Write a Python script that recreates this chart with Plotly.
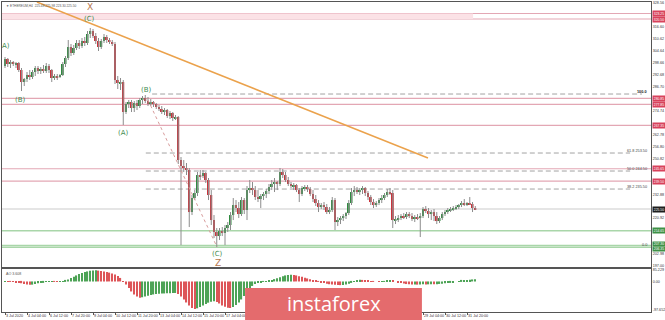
import plotly.graph_objects as go

# ---------------- data (ETHEREUM, H4) ----------------
bar_open = [
    297, 300.5, 298, 299, 298, 298.5, 295, 289, 290.5, 292.5,
    291.5, 294, 296, 294.5, 295.5, 294.5, 297, 295, 291, 292,
    291.5, 292.5, 298, 301, 306.5, 303.5, 306, 308.5, 307, 309.5,
    308.5, 313, 314.5, 312, 309.5, 306.5, 309.5, 311.5, 310, 309,
    308, 290, 288.5, 289, 274, 278, 279, 276, 278.5, 277,
    280, 281, 279.5, 278, 279, 278, 276.5, 275.5, 274, 275,
    272, 273.5, 271, 271.5, 250, 247, 246, 245, 224, 231,
    233.5, 242.5, 242, 243.5, 240, 232.5, 220, 214, 212, 214.5,
    213.5, 216, 217.5, 222.5, 227.5, 226, 223, 230, 225, 235,
    236, 235, 231.5, 230.5, 232, 233, 234.5, 236.5, 238, 239,
    238, 244, 242.5, 240, 238, 237, 237.5, 235, 233, 236,
    236.5, 235.5, 233, 230.5, 228.5, 226.5, 227.5, 226.5, 224, 225,
    230, 219, 220, 221, 222, 223.5, 228.5, 234, 235, 234,
    235, 236, 233.5, 231.5, 229, 227.5, 228.5, 230, 231, 232.5,
    234, 233.5, 220, 220.5, 221, 222, 221.5, 223, 222, 220.5,
    221.5, 221, 222, 225.5, 224.5, 223, 224, 222, 219.5, 221,
    223, 224, 225, 225.5, 226, 226.5, 227.5, 228.5, 228, 228.5,
    228, 226]
bar_high = [
    301.5, 301, 300, 299.5, 299, 299, 296, 291, 294, 295,
    295, 297, 297, 296.5, 297.5, 298.5, 298, 295.5, 293, 293,
    293, 299, 302, 310, 308, 307.5, 310, 310, 311, 311.5,
    314.5, 316, 315.5, 313.5, 311, 310.5, 313, 312.5, 311, 310,
    309, 292, 291, 290, 279, 280, 280, 279.5, 280, 281,
    282, 282.5, 281.5, 280.5, 279.5, 278.5, 277.5, 277, 276, 275.5,
    274.5, 274, 272.5, 272, 251.5, 250, 248.5, 246, 232.5, 235,
    244, 245, 245, 244, 241, 235, 222.5, 216, 216, 216.5,
    217.5, 219, 224, 231, 230, 229, 231.5, 231, 237, 240,
    239, 237, 235, 233, 234, 235.5, 238, 240, 241, 239.5,
    246, 245.5, 244, 241.5, 239, 238.5, 238, 236, 237, 237.5,
    237.5, 236.5, 235, 232.5, 230, 228.5, 229, 228, 226.5, 231.5,
    231, 221.5, 222, 223, 224, 230, 236, 237, 236.5, 236,
    237, 236.5, 234.5, 232.5, 230.5, 229.5, 231, 232.5, 233.5, 235.5,
    236, 235, 222, 222.5, 223, 223.5, 224, 224, 223.5, 222.5,
    223, 223.5, 226.5, 227, 226, 225, 225.5, 224, 222, 224,
    225, 226, 226.5, 227, 227.5, 228, 229.5, 230.5, 229, 231.5,
    229, 227]
bar_low = [
    296, 296.5, 296, 297, 296, 294, 284.5, 287, 289, 290,
    290.5, 292, 293, 293, 293.5, 293.5, 293.5, 289, 290, 290,
    291, 292, 296.5, 300, 302, 302.5, 305, 305.5, 306, 307,
    307.5, 311, 311, 308, 304.5, 305.5, 308.5, 308.5, 308, 307,
    288, 285.5, 285, 267.5, 273, 276, 274, 274, 275, 276,
    278, 278.5, 277, 277, 276.5, 275.5, 274.5, 273, 272.5, 271,
    270.5, 269.5, 270, 248, 207.5, 244, 242.5, 216.5, 222.5, 230,
    232, 240, 241, 238.5, 230, 217.5, 211, 206.5, 210, 212,
    207.5, 214, 215, 220, 224, 221, 222, 223, 220, 233.5,
    232.5, 230, 229, 226, 230, 231, 233, 235, 234, 235,
    237, 241, 239, 237, 236, 235, 234, 229, 232, 234.5,
    234, 232, 229, 227, 224, 225.5, 225, 223, 223, 224,
    215, 217, 218, 219.5, 220.5, 222.5, 227.5, 232, 233, 232.5,
    233, 232, 230, 227.5, 226, 226.5, 227.5, 228.5, 230, 231.5,
    232.5, 216, 218, 219, 220, 220.5, 220.5, 221, 219.5, 219,
    220, 211.5, 221, 223.5, 221, 220, 219.5, 218, 218.5, 220,
    222, 223, 224, 224.5, 225, 225.5, 226.5, 227, 227, 227.5,
    224, 225]
bar_close = [
    300.5, 298, 299, 298, 298.5, 295, 289, 290.5, 292.5, 291.5,
    294, 296, 294.5, 295.5, 294.5, 297, 295, 291, 292, 291.5,
    292.5, 298, 301, 306.5, 303.5, 306, 308.5, 307, 309.5, 308.5,
    313, 314.5, 312, 309.5, 306.5, 309.5, 311.5, 310, 309, 308,
    290, 288.5, 289, 274, 278, 279, 276, 278.5, 277, 280,
    281, 279.5, 278, 279, 278, 276.5, 275.5, 274, 275, 272,
    273.5, 271, 271.5, 250, 247, 246, 245, 224, 231, 233.5,
    242.5, 242, 243.5, 240, 232.5, 220, 214, 212, 214.5, 213.5,
    216, 217.5, 222.5, 227.5, 226, 223, 230, 225, 235, 236,
    235, 231.5, 230.5, 232, 233, 234.5, 236.5, 238, 239, 238,
    244, 242.5, 240, 238, 237, 237.5, 235, 233, 236, 236.5,
    235.5, 233, 230.5, 228.5, 226.5, 227.5, 226.5, 224, 225, 230,
    219, 220, 221, 222, 223.5, 228.5, 234, 235, 234, 235,
    236, 233.5, 231.5, 229, 227.5, 228.5, 230, 231, 232.5, 234,
    233.5, 220, 220.5, 221, 222, 221.5, 223, 222, 220.5, 221.5,
    221, 222, 225.5, 224.5, 223, 224, 222, 219.5, 221, 223,
    224, 225, 225.5, 226, 226.5, 227.5, 228.5, 228, 228.5, 228,
    226, 225.5]

# Awesome Oscillator
ao_values = [
    1.5, 0.9, 0.6, -0.9, -1.5, -3.0, -5.4, -7.5, -9.0, -9.9,
    -9.6, -7.8, -5.4, -3.0, -1.5, -0.9, 0.9, 1.5, 1.2, 0.6,
    0.9, 1.5, 3.0, 6.0, 10.5, 14.4, 18.0, 22.5, 25.5, 27.9,
    30.0, 31.8, 33.0, 33.6, 32.4, 30.9, 29.4, 27.9, 26.4, 24.0,
    21.0, 16.5, 10.5, 1.5, -9.0, -19.5, -30.0, -39.0, -45.0, -48.6,
    -47.4, -45.0, -42.6, -40.5, -39.0, -37.8, -36.9, -36.3, -36.0, -35.7,
    -35.4, -34.8, -34.5, -37.5, -45.0, -54.0, -63.0, -72.0, -79.5, -82.5,
    -80.4, -76.5, -72.0, -67.5, -63.6, -60.6, -59.4, -61.5, -66.0, -72.0,
    -75.9, -78.6, -79.5, -76.5, -70.5, -63.0, -54.0, -43.5, -33.0, -22.5,
    -13.5, -7.5, -3.6, -1.8, -0.6, 0.9, 2.4, 4.5, 6.9, 9.6,
    12.6, 15.6, 18.0, 19.5, 20.1, 19.2, 18.0, 15.9, 13.8, 11.4,
    9.0, 6.6, 4.2, 2.1, 0.3, -1.8, -4.2, -6.6, -8.4, -9.3,
    -9.9, -10.8, -11.1, -10.5, -9.0, -6.6, -3.0, 0.9, 3.6, 5.4,
    4.5, 3.6, 2.4, 1.5, 0.6, 0.0, -0.3, 0.3, 0.9, 2.1,
    3.0, 1.8, 0.0, -2.4, -4.5, -6.3, -7.8, -8.7, -9.3, -9.0,
    -9.6, -9.3, -8.7, -9.0, -8.7, -8.4, -8.7, -8.1, -7.5, -6.6,
    -5.7, -4.5, -3.0, -1.5, 0.0, 1.2, 2.4, 3.3, 4.2, 5.1,
    6.0, 6.6]
ao_tick_values = [34.5, 0, -85.5]
ao_tick_labels = ["85.229", "0.00", "-97.652"]

time_tick_index = [0, 8, 16, 24, 32, 40, 48, 56, 64, 72, 80, 88, 96, 104,
                   112, 120, 128, 136, 144, 152, 160, 168]
time_tick_labels = ["3 Jul 2020", "4 Jul 04:00", "6 Jul 12:00", "7 Jul 20:00",
                    "9 Jul 04:00", "10 Jul 12:00", "11 Jul 20:00", "13 Jul 04:00",
                    "14 Jul 12:00", "15 Jul 20:00", "17 Jul 04:00", "18 Jul 12:00",
                    "19 Jul 20:00", "21 Jul 04:00", "22 Jul 12:00", "23 Jul 20:00",
                    "25 Jul 04:00", "26 Jul 12:00", "27 Jul 20:00", "29 Jul 04:00",
                    "30 Jul 12:00", "31 Jul 20:00"]

price_ticks = [197.00, 202.98, 208.96, 214.94, 220.92, 226.90, 232.88, 238.86,
               244.84, 250.82, 256.80, 262.78, 268.76, 274.74, 280.72, 286.70,
               292.68, 298.66, 304.64, 310.62, 316.60, 322.58, 328.56]

resistance_levels = [323.25, 320.5, 280.85, 277.85, 267.35, 245.65, 239.5]
support_levels = [214.65, 207.3, 206.35]
current_price = 225.5
band_levels = [320.5, 323.25]
band_end_bar = 170.2

fib_names = ["0.0", "38.2", "50.0", "61.8", "100.0"]
fib_prices = [206.5, 235.5, 244.5, 253.5, 283.0]
fib_start_bar = [51.2, 51.2, 51.2, 51.2, 53.5]
fib_end_bar = [227.3, 227.3, 227.3, 227.3, 231.6]

trend_x = [11.6, 153.8]
trend_y = [329.0, 251.0]
bc_x = [52.0, 77.1]
bc_y = [280.0, 206.5]

wave_text = ["A)", "(B)", "(C)", "(A)", "(B)", "(C)"]
wave_x = [0.4, 5.8, 30.9, 43.1, 51.6, 77.1]
wave_y = [307.25, 280.25, 320.75, 263.65, 285.0, 203.0]
pattern_text = ["X", "Z"]
pattern_x = [30.9, 77.5]
pattern_y = [326.5, 198.6]

title_text = "\u25bc ETHEREUM,H4  225.48 225.98 223.30 225.50"
ao_title = "AO 3.608"

# watermark extent along the bar axis
watermark_bars = [87.3, 151.6]

# ---------------- figure ----------------
n = len(bar_close)
UP = "#2f8a3f"
DOWN = "#c9343c"
SMALL_FONT = "Liberation Sans"

fig = go.Figure()

# wicks
wx, wy = [], []
for i in range(n):
    wx += [i, i, None]
    wy += [bar_low[i], bar_high[i], None]
fig.add_trace(go.Scatter(x=wx, y=wy, mode="lines", line=dict(color="#8c8c8c", width=1),
                         hoverinfo="skip", xaxis="x", yaxis="y"))

# bodies
for want_up, col in ((True, UP), (False, DOWN)):
    idx = [i for i in range(n) if (bar_close[i] >= bar_open[i]) == want_up]
    fig.add_trace(go.Bar(
        x=idx,
        base=[min(bar_open[i], bar_close[i]) for i in idx],
        y=[max(abs(bar_close[i] - bar_open[i]), 0.45) for i in idx],
        width=0.72, marker=dict(color=col, line=dict(width=0)),
        xaxis="x", yaxis="y", hoverinfo="skip"))

# trend line and B-C line
fig.add_trace(go.Scatter(x=trend_x, y=trend_y, mode="lines",
                         line=dict(color="#eba24c", width=1.5), xaxis="x", yaxis="y"))
fig.add_trace(go.Scatter(x=bc_x, y=bc_y, mode="lines",
                         line=dict(color="#d89c9c", width=1, dash="dot"), xaxis="x", yaxis="y"))

# AO histogram
ao_colors = ["#4da356" if (i > 0 and ao_values[i] > ao_values[i - 1]) else "#dd5558"
             for i in range(n)]
ao_colors[0] = "#4da356"
fig.add_trace(go.Bar(x=list(range(n)), y=ao_values, width=0.45,
                     marker=dict(color=ao_colors, line=dict(width=0)),
                     xaxis="x2", yaxis="y2", hoverinfo="skip"))

shapes = []
# pink band
shapes.append(dict(type="rect", xref="x", yref="y", x0=-2, x1=band_end_bar,
                   y0=band_levels[0], y1=band_levels[1], fillcolor="#fbe2e6",
                   line=dict(width=0), layer="below"))
for lv in resistance_levels:
    shapes.append(dict(type="line", xref="paper", yref="y", x0=0, x1=1, y0=lv, y1=lv,
                       line=dict(color="#e3a7b4", width=1.2), layer="below"))
shapes.append(dict(type="line", xref="paper", yref="y", x0=0, x1=1,
                   y0=current_price, y1=current_price,
                   line=dict(color="#dcdcdc", width=1.5), layer="below"))
for lv in support_levels:
    shapes.append(dict(type="line", xref="paper", yref="y", x0=0, x1=1, y0=lv, y1=lv,
                       line=dict(color="#a9d6a9", width=1.5), layer="below"))
for k in range(1, len(fib_prices)):
    shapes.append(dict(type="line", xref="x", yref="y", x0=fib_start_bar[k], x1=fib_end_bar[k],
                       y0=fib_prices[k], y1=fib_prices[k],
                       line=dict(color="#a3a3a3", width=1, dash="5px,3px"), layer="below"))
# watermark
shapes.append(dict(type="rect", xref="x", yref="paper", x0=watermark_bars[0], x1=watermark_bars[1],
                   y0=-0.03, y1=0.0774, fillcolor="#e46b6d", line=dict(width=0), layer="above"))

annotations = []
for t, x, y in zip(wave_text, wave_x, wave_y):
    annotations.append(dict(x=x, y=y, xref="x", yref="y", text=t, showarrow=False, borderpad=0,
                            font=dict(size=7, color="#3f8c4f", family="DejaVu Sans")))
for t, x, y in zip(pattern_text, pattern_x, pattern_y):
    annotations.append(dict(x=x, y=y, xref="x", yref="y", text=t, showarrow=False, borderpad=0,
                            font=dict(size=9, color="#b8784e", family="DejaVu Sans")))
for k, (nm, pr) in enumerate(zip(fib_names, fib_prices)):
    txt = nm if k in (0, len(fib_names) - 1) else f"{nm} {pr:.2f}"
    bold = k == len(fib_names) - 1
    annotations.append(dict(x=1, y=pr, xref="paper", yref="y", xanchor="right", yanchor="bottom",
                            xshift=-2, yshift=-2, text=f"<b>{txt}</b>" if bold else txt,
                            showarrow=False,
                            font=dict(size=3.8, color="#111" if bold else "#444",
                                      family=SMALL_FONT)))

def price_box(lv, col, h=5, dy=0):
    return dict(x=1, y=lv, xref="paper", yref="y", xanchor="left", yanchor="middle", xshift=1,
                yshift=dy, text=f"{lv:.2f}", showarrow=False, bgcolor=col, width=12, height=h,
                borderpad=0, font=dict(size=3.4, color="white", family=SMALL_FONT))

box_levels = resistance_levels + [current_price] + support_levels
for lv in resistance_levels:
    annotations.append(price_box(lv, "#d8425c"))
annotations.append(price_box(current_price, "#1e1e1e"))
annotations.append(price_box(support_levels[0], "#3f9147"))
annotations.append(price_box(support_levels[1], "#3f9147", h=3.6, dy=1.2))
annotations.append(price_box(support_levels[2], "#3f9147", h=3.6, dy=-1.2))

# axis labels hidden under a price box or under the watermark in the reference
visible_ticks = [v for v in price_ticks if min(abs(v - b) for b in box_levels) > 2.0]
vis_time = [(i, t) for i, t in zip(time_tick_index, time_tick_labels)
            if not (watermark_bars[0] - 1 <= i <= watermark_bars[1])]

annotations.append(dict(x=0, y=1, xref="paper", yref="paper", xanchor="left", yanchor="top",
                        xshift=3, yshift=-1, text=title_text, showarrow=False, borderpad=0,
                        font=dict(size=3.2, color="#555", family=SMALL_FONT)))
annotations.append(dict(x=0, y=0.139, xref="paper", yref="paper", xanchor="left", yanchor="top",
                        xshift=2, yshift=-1, text=ao_title, showarrow=False,
                        font=dict(size=3.6, color="#555", family=SMALL_FONT)))
annotations.append(dict(x=sum(watermark_bars) / 2, y=0.029, xref="x", yref="paper",
                        xanchor="center", yanchor="middle", text="instaforex", showarrow=False,
                        font=dict(size=20, color="white", family="Open Sans")))

xr = [-1.09, 234.9]
fig.update_layout(
    width=665, height=320, margin=dict(l=2, r=14, t=2, b=8, autoexpand=False),
    paper_bgcolor="white", plot_bgcolor="white", showlegend=False, barmode="overlay",
    xaxis=dict(domain=[0, 1], anchor="y", range=xr, showticklabels=False, showgrid=False,
               zeroline=False, showline=True, mirror=True, linecolor="#555", linewidth=1,
               ticks="", automargin=False),
    xaxis2=dict(domain=[0, 1], anchor="y2", matches="x", range=xr,
                tickvals=[i for i, _ in vis_time], ticktext=[t for _, t in vis_time],
                ticklabelposition="outside right", ticks="outside",
                tickangle=0, ticklen=2, tickcolor="#555",
                tickfont=dict(size=3.7, color="#333", family=SMALL_FONT),
                showgrid=False, zeroline=False, showline=True, mirror=True, linecolor="#555",
                automargin=False),
    yaxis=dict(domain=[0.145, 1], anchor="x", side="right", range=[196.5, 329],
               tickvals=visible_ticks, ticktext=[f"{v:.2f}" for v in visible_ticks],
               tickfont=dict(size=3.7, color="#333", family=SMALL_FONT), ticks="",
               showgrid=False, zeroline=False, showline=True,
               mirror=True, linecolor="#555", automargin=False),
    yaxis2=dict(domain=[0, 0.139], anchor="x2", side="right", range=[-91.5, 37.5],
                tickvals=ao_tick_values, ticktext=ao_tick_labels,
                tickfont=dict(size=3.7, color="#333", family=SMALL_FONT), ticks="",
                showgrid=False, zeroline=False, showline=True,
                mirror=True, linecolor="#555", automargin=False),
    shapes=shapes, annotations=annotations,
)

fig.write_html("out.html")
